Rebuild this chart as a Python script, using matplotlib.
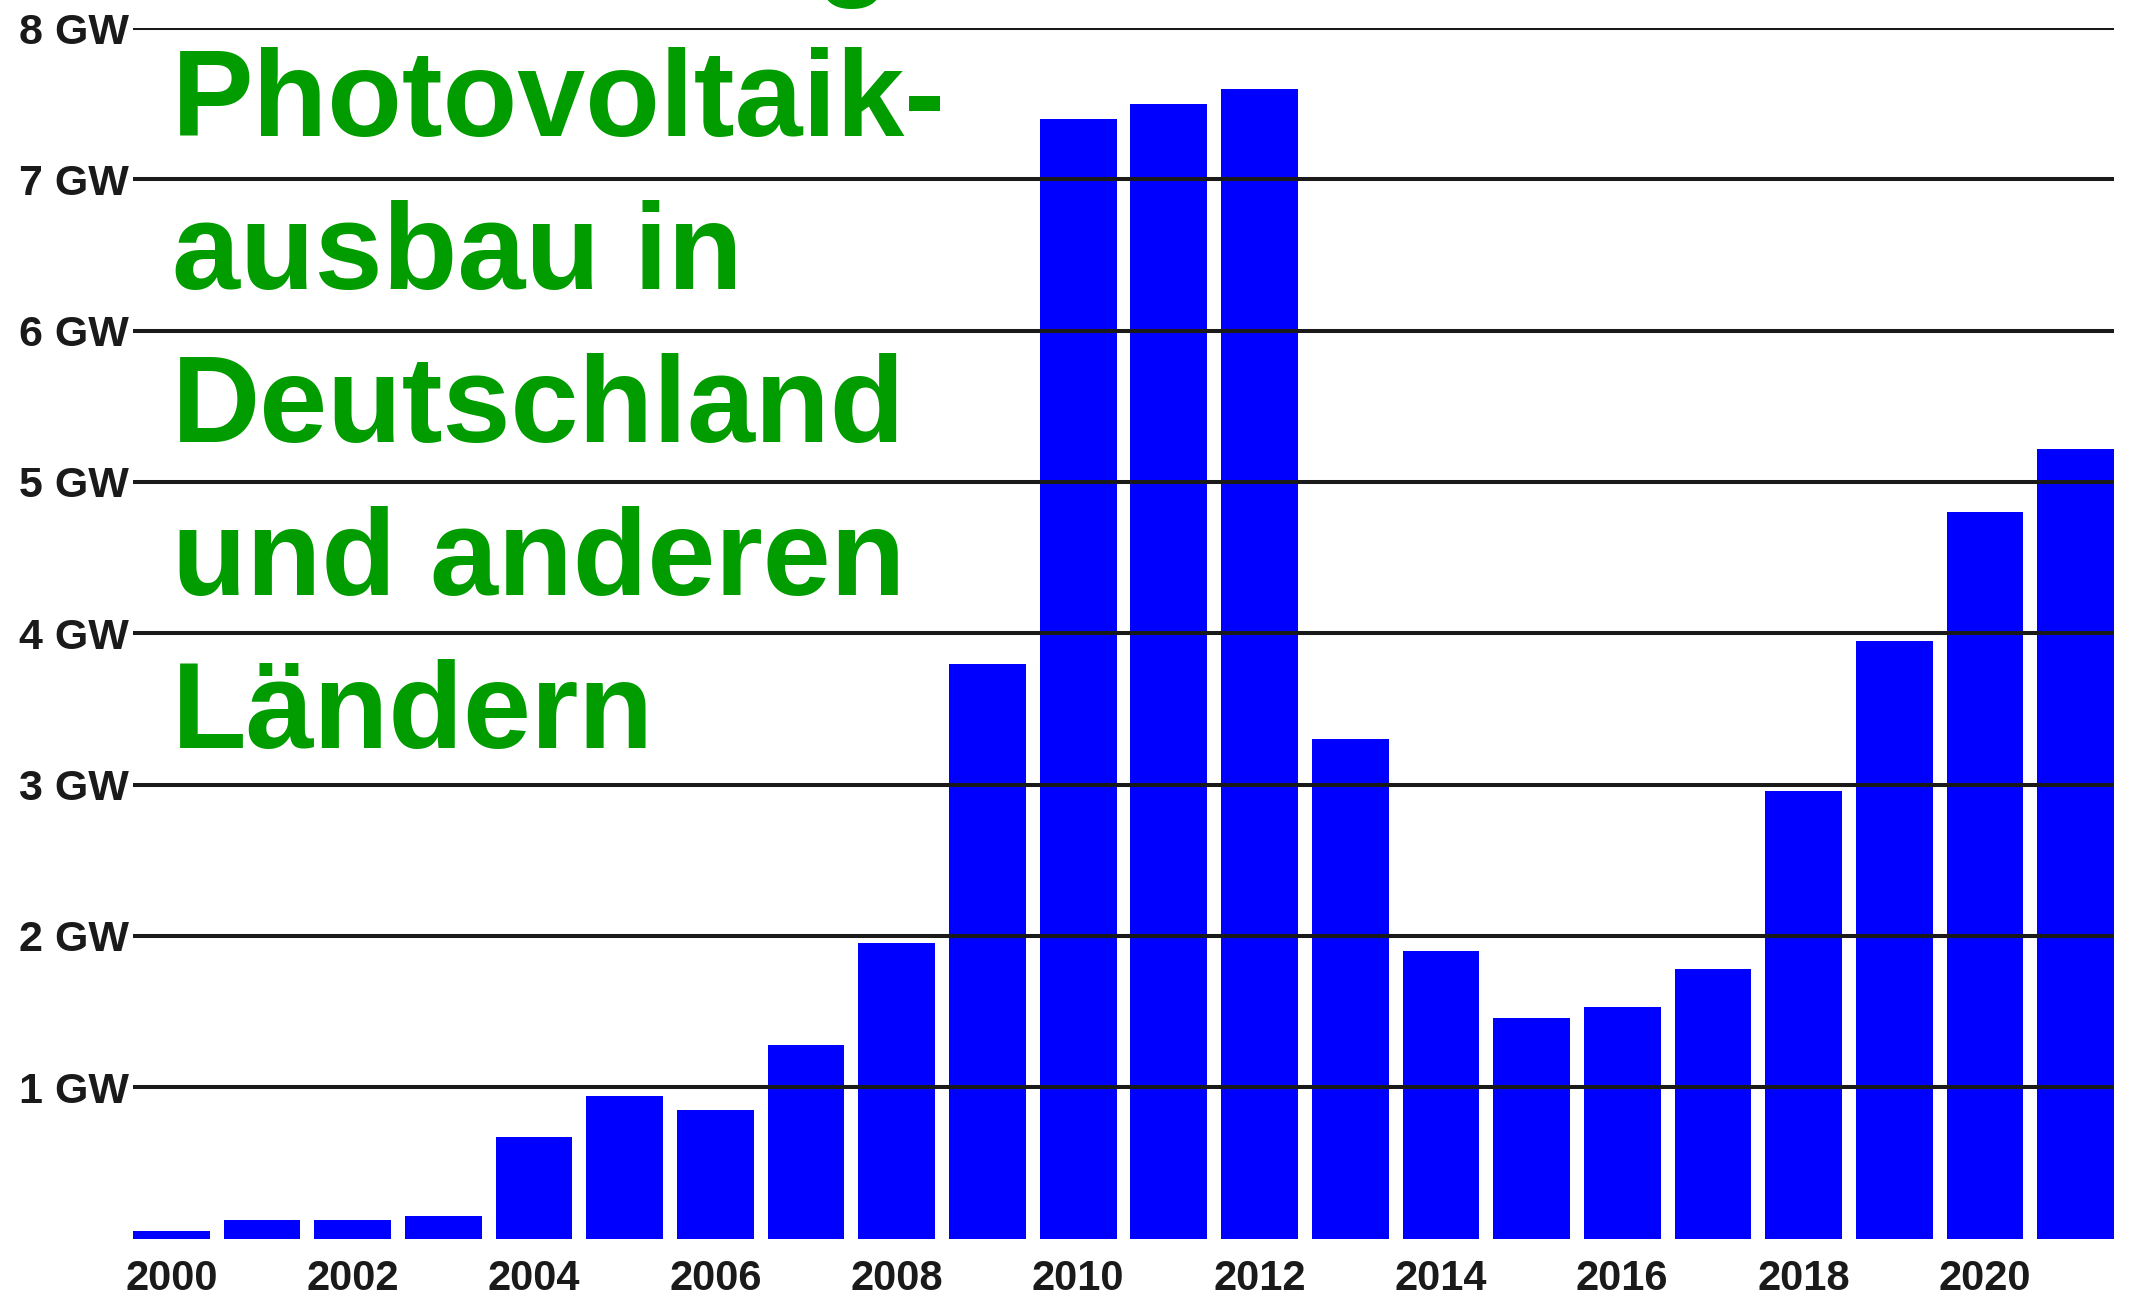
import matplotlib
matplotlib.use("Agg")
import matplotlib.pyplot as plt
import numpy as np

years = list(range(2000, 2022))
values_gw = [0.05, 0.12, 0.12, 0.15, 0.67, 0.94, 0.85, 1.28, 1.95, 3.80,
             7.40, 7.50, 7.60, 3.30, 1.90, 1.46, 1.53, 1.78, 2.96, 3.95,
             4.80, 5.22]
ytick_values = [1, 2, 3, 4, 5, 6, 7, 8]
ytick_labels = [f"{v} GW" for v in ytick_values]
xtick_years = list(range(2000, 2022, 2))
title_lines = ["Entwicklung", "Photovoltaik-", "ausbau in", "Deutschland",
               "und anderen", "Ländern"]

W, H = 2134, 1303
fig = plt.figure(figsize=(W / 100, H / 100), dpi=100)
left, right, top, bottom = 133, 2114, 28, 1238.5
ax = fig.add_axes([left / W, (H - bottom) / H, (right - left) / W, (bottom - top) / H])

x = np.arange(len(years))
ax.bar(x, values_gw, width=0.846, color="#0000ff", zorder=1)
ax.set_xlim(-0.423, len(years) - 1 + 0.423)
ax.set_ylim(0, 8)

ax.set_yticks(ytick_values)
ax.set_yticklabels(ytick_labels)
ax.set_xticks([years.index(y) for y in xtick_years])
ax.set_xticklabels([str(y) for y in xtick_years])

for lab in ax.get_yticklabels() + ax.get_xticklabels():
    lab.set_fontfamily("Liberation Sans")
    lab.set_fontweight("bold")
    lab.set_color("#1a1a1a")
for lab in ax.get_yticklabels():
    lab.set_fontsize(31)
for lab in ax.get_xticklabels():
    lab.set_fontsize(30)

ax.tick_params(axis="y", length=0, pad=3)
ax.tick_params(axis="x", length=0, pad=15)
for s in ax.spines.values():
    s.set_visible(False)

ax.set_axisbelow(False)
ax.yaxis.grid(True, color="#1a1a1a", linewidth=2.9)
ax.xaxis.grid(False)

# title lines (baseline positions in figure pixels from top)
first_baseline = -17
spacing = 153
for i, line in enumerate(title_lines):
    yb = first_baseline + i * spacing
    fig.text(172 / W, (H - yb) / H, line, fontsize=88, fontweight="bold",
             family="Liberation Sans", color="#009c00", ha="left",
             va="baseline", zorder=5)

fig.savefig("out.png", dpi=100)
